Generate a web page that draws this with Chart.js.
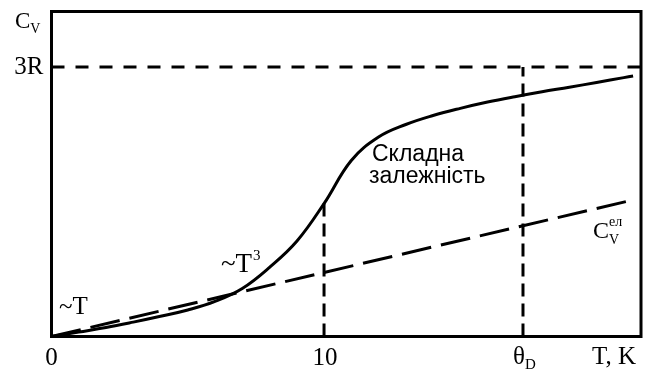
<!DOCTYPE html>
<html>
<head>
<meta charset="utf-8">
<script src="https://cdn.jsdelivr.net/npm/chart.js@4.4.1/dist/chart.umd.min.js"></script>
<style>
  html, body { margin: 0; padding: 0; background: #fff; }
  #wrap { width: 648px; height: 372px; }
</style>
</head>
<body>
<div id="wrap"><canvas id="myChart" width="648" height="372"></canvas></div>
<script>
// total heat capacity curve (T in K, C_V in units of R)
const tempK = [0, 1, 2, 3, 4, 5, 6, 7, 8, 9, 10, 11, 12, 13, 14, 15, 16, 17, 18, 19, 20, 21, 21.34];
const cvTotal = [0, 0.05, 0.10, 0.16, 0.225, 0.295, 0.39, 0.535, 0.77, 1.06, 1.48, 1.96, 2.22, 2.36, 2.46, 2.54, 2.61, 2.67, 2.725, 2.775, 2.828, 2.882, 2.90];

// electronic contribution (straight line)
const elecX = [0, 21.4];
const elecY = [0, 1.525];

// reference levels
const limit3R = 3;
const debyeT = 17.3;
const tenK = 10;
const cvAtTen = 1.48;

const xMax = 21.63;
const yMax = 3.618;

function pts(xs, ys) {
  return xs.map(function(x, i) { return { x: x, y: ys[i] }; });
}

const black = '#000';

const data = {
  datasets: [{
    label: 'C_V',
    data: pts(tempK, cvTotal),
    borderColor: black,
    borderWidth: 3,
    tension: 0.4,
    pointRadius: 0
  }, {
    label: 'C_V el',
    data: pts(elecX, elecY),
    borderColor: black,
    borderWidth: 3,
    borderDash: [30, 10],
    pointRadius: 0
  }, {
    label: '3R',
    data: pts([0, xMax], [limit3R, limit3R]),
    borderColor: black,
    borderWidth: 3,
    borderDash: [13, 11],
    pointRadius: 0
  }, {
    label: '10 K',
    data: pts([tenK, tenK], [0, cvAtTen]),
    borderColor: black,
    borderWidth: 3,
    borderDash: [13, 7],
    pointRadius: 0
  }, {
    label: 'theta_D',
    data: pts([debyeT, debyeT], [0, limit3R]),
    borderColor: black,
    borderWidth: 3,
    borderDash: [13, 7],
    pointRadius: 0
  }]
};

const serif = '"Liberation Serif", "Times New Roman", serif';
const sans = '"Liberation Sans", Arial, sans-serif';

function txt(ctx, s, x, y, size, font, align) {
  ctx.font = size + 'px ' + font;
  ctx.textAlign = align || 'left';
  ctx.fillText(s, x, y);
  return x + ctx.measureText(s).width;
}

const annotations = {
  id: 'annotations',
  afterDraw: function(chart) {
    const ctx = chart.ctx;
    const a = chart.chartArea;
    const xs = chart.scales.x;
    const ys = chart.scales.y;
    ctx.save();
    // frame
    ctx.strokeStyle = black;
    ctx.lineWidth = 3;
    ctx.strokeRect(a.left, a.top, a.right - a.left, a.bottom - a.top);

    ctx.fillStyle = black;
    ctx.textBaseline = 'alphabetic';
    // axis labels
    let e = txt(ctx, 'C', 15, 28, 23, serif);
    txt(ctx, 'V', e, 33, 14, serif);
    txt(ctx, '3R', a.left - 8, ys.getPixelForValue(limit3R) + 7, 25, serif, 'right');
    const base = a.bottom + 28;
    txt(ctx, '0', xs.getPixelForValue(0), base, 25, serif, 'center');
    txt(ctx, '10', xs.getPixelForValue(tenK) + 1, base, 25, serif, 'center');
    e = txt(ctx, 'θ', xs.getPixelForValue(debyeT) - 10, base - 1, 25, serif);
    txt(ctx, 'D', e, base + 4, 15, serif);
    txt(ctx, 'T, K', 592, base - 1, 25, serif);

    // curve labels
    txt(ctx, '~T', 59, 314, 25, serif);
    e = txt(ctx, '~T', 221, 272, 27, serif);
    txt(ctx, '3', e + 1, 260, 15, serif);
    txt(ctx, 'Складна', 372, 161, 23, sans);
    txt(ctx, 'залежність', 369, 183, 23, sans);
    e = txt(ctx, 'C', 593, 238, 24, serif);
    txt(ctx, 'ел', e, 226, 14, serif);
    txt(ctx, 'V', e, 244, 14, serif);
    ctx.restore();
  }
};

const config = {
  type: 'line',
  data: data,
  options: {
    responsive: false,
    animation: false,
    layout: {
      padding: { left: 51.5, top: 11.5, right: 7, bottom: 35.5 }
    },
    plugins: {
      legend: { display: false },
      tooltip: { enabled: false }
    },
    scales: {
      x: { type: 'linear', min: 0, max: xMax, display: false },
      y: { type: 'linear', min: 0, max: yMax, display: false }
    }
  },
  plugins: [annotations]
};

var myChart = new Chart(
  document.getElementById('myChart'),
  config
);
</script>
</body>
</html>
